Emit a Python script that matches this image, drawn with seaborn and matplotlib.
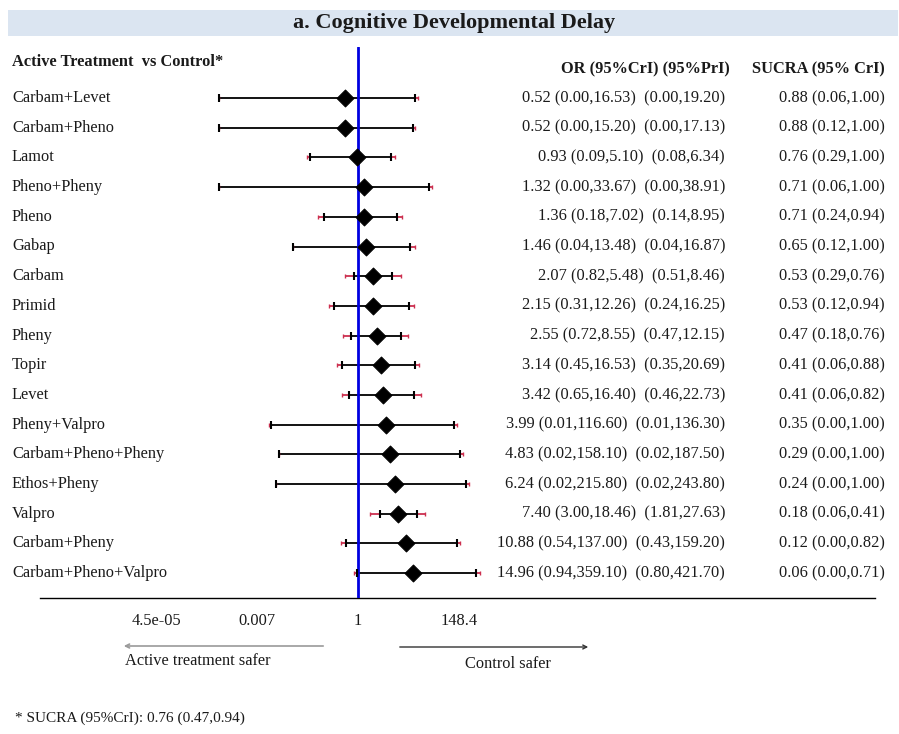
import numpy as np
import pandas as pd
import matplotlib
matplotlib.use("Agg")
import matplotlib.pyplot as plt
import seaborn as sns
from matplotlib import transforms
from matplotlib.patches import Rectangle, FancyArrowPatch

# ---- data -------------------------------------------------------------
treatments = ["Carbam+Levet", "Carbam+Pheno", "Lamot", "Pheno+Pheny", "Pheno",
              "Gabap", "Carbam", "Primid", "Pheny", "Topir", "Levet",
              "Pheny+Valpro", "Carbam+Pheno+Pheny", "Ethos+Pheny", "Valpro",
              "Carbam+Pheny", "Carbam+Pheno+Valpro"]
odds_ratio = [0.52, 0.52, 0.93, 1.32, 1.36, 1.46, 2.07, 2.15, 2.55, 3.14, 3.42,
              3.99, 4.83, 6.24, 7.40, 10.88, 14.96]
cri_low = [0.001, 0.001, 0.09, 0.001, 0.18, 0.04, 0.82, 0.31, 0.72, 0.45, 0.65,
           0.013, 0.02, 0.017, 3.00, 0.54, 0.94]
cri_high = [16.53, 15.20, 5.10, 33.67, 7.02, 13.48, 5.48, 12.26, 8.55, 16.53, 16.40,
            116.60, 158.10, 215.80, 18.46, 137.00, 359.10]
pri_low = [0.001, 0.001, 0.08, 0.001, 0.14, 0.04, 0.51, 0.24, 0.47, 0.35, 0.46,
           0.012, 0.02, 0.017, 1.81, 0.43, 0.80]
pri_high = [19.20, 17.13, 6.34, 38.91, 8.95, 16.87, 8.46, 16.25, 12.15, 20.69, 22.73,
            136.30, 187.50, 243.80, 27.63, 159.20, 421.70]
sucra = [0.88, 0.88, 0.76, 0.71, 0.71, 0.65, 0.53, 0.53, 0.47, 0.41, 0.41,
         0.35, 0.29, 0.24, 0.18, 0.12, 0.06]
sucra_low = [0.06, 0.12, 0.29, 0.06, 0.24, 0.12, 0.29, 0.12, 0.18, 0.06, 0.06,
             0.00, 0.00, 0.00, 0.06, 0.00, 0.00]
sucra_high = [1.00, 1.00, 1.00, 1.00, 0.94, 1.00, 0.76, 0.94, 0.76, 0.88, 0.82,
              1.00, 1.00, 1.00, 0.41, 0.82, 0.71]

log_ticks = [-10, -5, 0, 5]
tick_labels = ["4.5e-05", "0.007", "1", "148.4"]

control_sucra = (0.76, 0.47, 0.94)

df = pd.DataFrame({
    "treatment": treatments, "or": odds_ratio,
    "cri_lo": cri_low, "cri_hi": cri_high,
    "pri_lo": pri_low, "pri_hi": pri_high,
    "sucra": sucra, "s_lo": sucra_low, "s_hi": sucra_high,
})
df["row"] = np.arange(len(df))

# ---- style ------------------------------------------------------------
sns.set_style("white")
plt.rcParams["font.family"] = ["Liberation Serif", "DejaVu Serif"]
TXT = "#1a1a1a"
RED = "#cc2f4f"
FS = 11.8

W, H = 899, 734
fig = plt.figure(figsize=(W / 100, H / 100), dpi=100)


def fx(px):
    return px / W


def fy(py):
    return 1 - py / H


# title band
fig.patches.append(Rectangle((fx(8), fy(36)), (898 - 8) / W, 26 / H,
                             transform=fig.transFigure, facecolor="#dbe5f1",
                             edgecolor="none", zorder=0))
fig.text(fx(454), fy(23), "a. Cognitive Developmental Delay", ha="center",
         va="center", fontsize=16, fontweight="bold", color=TXT)

ax = fig.add_axes([fx(40), fy(598), (875 - 40) / W, (598 - 47) / H])
ax.set_facecolor("none")

# intervals: black between CrI limits, red from CrI out to PrI limits
ax.hlines(df["row"], df["cri_lo"], df["cri_hi"], color="black", lw=1.3, zorder=2)
ax.hlines(df["row"], df["pri_lo"], df["cri_lo"], color=RED, lw=1.3, zorder=2)
ax.hlines(df["row"], df["cri_hi"], df["pri_hi"], color=RED, lw=1.3, zorder=2)
sns.scatterplot(x=pd.concat([df["pri_lo"], df["pri_hi"]]),
                y=pd.concat([df["row"], df["row"]]), marker="|", s=12,
                color=RED, linewidth=1.0, ax=ax, zorder=3)
sns.scatterplot(x=pd.concat([df["cri_lo"], df["cri_hi"]]),
                y=pd.concat([df["row"], df["row"]]), marker="|", s=40,
                color="black", linewidth=1.5, ax=ax, zorder=4)

ax.axvline(1, color="#0000e0", lw=2.0, zorder=3)

sns.scatterplot(data=df, x="or", y="row", marker="D", s=75, color="black",
                edgecolor="black", ax=ax, zorder=5)

ax.set_xscale("log")
ax.set_xlim(np.exp(-15.80), np.exp(25.68))
ax.set_ylim(16.84, -1.72)
ax.set_xticks(np.exp(log_ticks))
ax.set_xticklabels(tick_labels)
ax.minorticks_off()
ax.set_yticks([])
ax.set_xlabel("")
ax.set_ylabel("")
for side in ["left", "top", "right"]:
    ax.spines[side].set_visible(False)
ax.spines["bottom"].set_color("black")
ax.spines["bottom"].set_linewidth(1.0)
ax.tick_params(axis="x", direction="out", length=7, width=1.0, color="black",
               labelsize=FS, labelcolor=TXT, pad=4)

# row texts
trans = transforms.blended_transform_factory(fig.transFigure, ax.transData)
for _, r in df.iterrows():
    ax.text(fx(12), r["row"], r["treatment"], transform=trans, ha="left",
            va="center", fontsize=FS, color=TXT)
    or_txt = (f"{r['or']:.2f} ({r['cri_lo']:.2f},{r['cri_hi']:.2f})  "
              f"({r['pri_lo']:.2f},{r['pri_hi']:.2f})")
    ax.text(fx(725), r["row"], or_txt, transform=trans, ha="right",
            va="center", fontsize=FS, color=TXT)
    s_txt = f"{r['sucra']:.2f} ({r['s_lo']:.2f},{r['s_hi']:.2f})"
    ax.text(fx(885), r["row"], s_txt, transform=trans, ha="right",
            va="center", fontsize=FS, color=TXT)

# column headers
fig.text(fx(12), fy(62), "Active Treatment  vs Control*", ha="left",
         va="center", fontsize=FS, fontweight="bold", color=TXT)
fig.text(fx(730), fy(69), "OR (95%CrI) (95%PrI)", ha="right", va="center",
         fontsize=FS, fontweight="bold", color=TXT)
fig.text(fx(885), fy(69), "SUCRA (95% CrI)", ha="right", va="center",
         fontsize=FS, fontweight="bold", color=TXT)

# direction arrows
fig.add_artist(FancyArrowPatch(
    (fx(326), fy(646)), (fx(121), fy(646)), transform=fig.transFigure,
    arrowstyle="->", mutation_scale=7, color="#9a9a9a", lw=1.2))
fig.add_artist(FancyArrowPatch(
    (fx(397), fy(647)), (fx(591), fy(647)), transform=fig.transFigure,
    arrowstyle="->", mutation_scale=7, color="#333333", lw=1.0))
fig.text(fx(198), fy(661), "Active treatment safer", ha="center", va="center",
         fontsize=FS, color=TXT)
fig.text(fx(508), fy(664), "Control safer", ha="center", va="center",
         fontsize=FS, color=TXT)

fig.text(fx(15), fy(718),
         f"* SUCRA (95%CrI): {control_sucra[0]:.2f} "
         f"({control_sucra[1]:.2f},{control_sucra[2]:.2f})",
         ha="left", va="center", fontsize=11, color=TXT)

fig.savefig("out.png", dpi=100, facecolor="white")
